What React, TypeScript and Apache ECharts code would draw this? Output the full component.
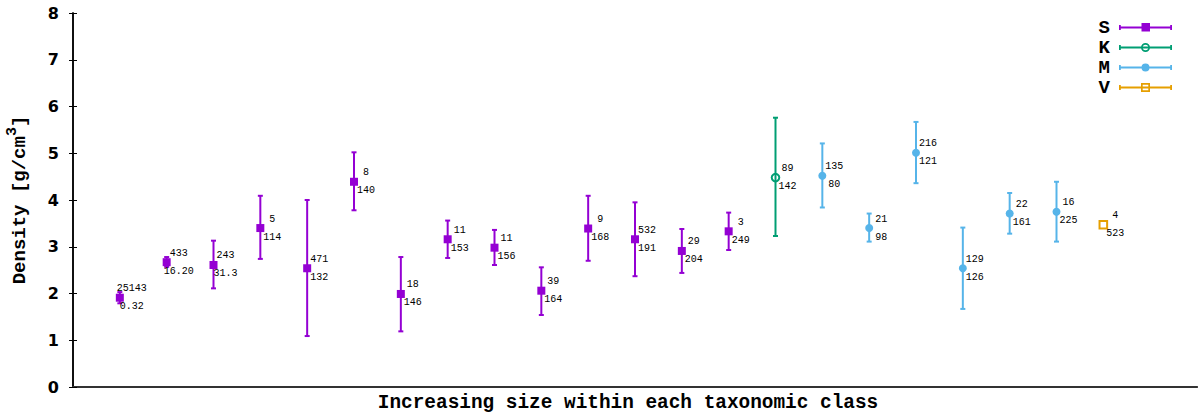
import React, { useEffect, useRef } from "react";
import * as echarts from "echarts";

// ---- data ----
const sX = [1, 2, 3, 4, 5, 6, 7, 8, 9, 10, 11, 12, 13, 14];
const sMean = [1.91, 2.67, 2.61, 3.4, 2.54, 4.39, 1.99, 3.16, 2.98, 2.06, 3.39, 3.16, 2.91, 3.33];
const sLow = [1.79, 2.57, 2.11, 2.74, 1.09, 3.78, 1.19, 2.76, 2.61, 1.54, 2.7, 2.37, 2.44, 2.93];
const sHigh = [2.03, 2.78, 3.13, 4.09, 4.0, 5.02, 2.78, 3.56, 3.36, 2.56, 4.09, 3.95, 3.38, 3.73];
const sTop = ["25143", "433", "243", "5", "471", "8", "18", "11", "11", "39", "9", "532", "29", "3"];
const sBottom = ["0.32", "16.20", "31.3", "114", "132", "140", "146", "153", "156", "164", "168", "191", "204", "249"];

const kX = [15];
const kMean = [4.48];
const kLow = [3.23];
const kHigh = [5.76];
const kTop = ["89"];
const kBottom = ["142"];

const mX = [16, 17, 18, 19, 20, 21];
const mMean = [4.52, 3.4, 5.01, 2.54, 3.71, 3.75];
const mLow = [3.84, 3.11, 4.36, 1.67, 3.28, 3.11];
const mHigh = [5.21, 3.71, 5.67, 3.41, 4.15, 4.39];
const mTop = ["135", "21", "216", "129", "22", "16"];
const mBottom = ["80", "98", "121", "126", "161", "225"];

const vX = [22];
const vMean = [3.47];
const vLow: (number | null)[] = [null];
const vHigh: (number | null)[] = [null];
const vTop = ["4"];
const vBottom = ["523"];

const yTicks = [0, 1, 2, 3, 4, 5, 6, 7, 8];

const COLORS = { S: "#9400D3", K: "#009E73", M: "#56B4E9", V: "#E69F00" };

const MONO = "'Liberation Mono', 'DejaVu Sans Mono', monospace";

// legend icons (53 x 9 box)
const LINE = "M0 3.5 H53 V5.5 H0 Z M0 2 H1.8 V7 H0 Z M51.2 2 H53 V7 H51.2 Z ";
const ICON_S = "path://" + LINE + "M22.5 0 H31 V8.5 H22.5 Z M0 0 H0.01 V9 H0 Z";
const ICON_K =
  "path://" + LINE +
  "M31 4.5 A4.5 4.5 0 1 1 22 4.5 A4.5 4.5 0 1 1 31 4.5 Z M29.3 4.5 A2.8 2.8 0 1 0 23.7 4.5 A2.8 2.8 0 1 0 29.3 4.5 Z";
const ICON_M =
  "path://" + LINE + "M30.5 4.5 A4 4 0 1 1 22.5 4.5 A4 4 0 1 1 30.5 4.5 Z M0 0 H0.01 V9 H0 Z";
const ICON_V =
  "path://" + LINE + "M22 0 H31 V9 H22 Z M23.7 1.7 V7.3 H29.3 V1.7 Z";

type Marker = "square" | "ocircle" | "circle" | "osquare";

function makeSeries(
  name: string,
  color: string,
  marker: Marker,
  xs: number[],
  mean: number[],
  low: (number | null)[],
  high: (number | null)[],
  top: string[],
  bottom: string[]
) {
  return {
    type: "custom",
    name,
    clip: false,
    itemStyle: { color },
    data: xs.map((x, i) => [x, mean[i]]),
    encode: { x: 0, y: 1 },
    renderItem: (params: any, api: any) => {
      const i = params.dataIndex;
      const p = api.coord([api.value(0), api.value(1)]);
      const children: any[] = [];
      const lo = low[i];
      const hi = high[i];
      if (lo != null && hi != null) {
        const pl = api.coord([api.value(0), lo]);
        const ph = api.coord([api.value(0), hi]);
        children.push({
          type: "line",
          shape: { x1: p[0], y1: pl[1], x2: p[0], y2: ph[1] },
          style: { stroke: color, lineWidth: 2 },
        });
        children.push({
          type: "line",
          shape: { x1: p[0] - 2.5, y1: pl[1], x2: p[0] + 2.5, y2: pl[1] },
          style: { stroke: color, lineWidth: 2 },
        });
        children.push({
          type: "line",
          shape: { x1: p[0] - 2.5, y1: ph[1], x2: p[0] + 2.5, y2: ph[1] },
          style: { stroke: color, lineWidth: 2 },
        });
      }
      if (marker === "square") {
        children.push({
          type: "rect",
          shape: { x: p[0] - 4, y: p[1] - 4, width: 8, height: 8 },
          style: { fill: color },
        });
      } else if (marker === "circle") {
        children.push({
          type: "circle",
          shape: { cx: p[0], cy: p[1], r: 4 },
          style: { fill: color },
        });
      } else if (marker === "ocircle") {
        children.push({
          type: "circle",
          shape: { cx: p[0], cy: p[1], r: 3.8 },
          style: { fill: "none", stroke: color, lineWidth: 2 },
        });
      } else {
        children.push({
          type: "rect",
          shape: { x: p[0] - 3.8, y: p[1] - 3.8, width: 7.6, height: 7.6 },
          style: { fill: "none", stroke: color, lineWidth: 2 },
        });
      }
      children.push({
        type: "text",
        style: {
          x: p[0] + 12,
          y: p[1] - 9,
          text: top[i],
          fill: "#000",
          font: "10px " + MONO,
          align: "center",
          verticalAlign: "middle",
        },
      });
      children.push({
        type: "text",
        style: {
          x: p[0] + 12,
          y: p[1] + 9,
          text: bottom[i],
          fill: "#000",
          font: "10px " + MONO,
          align: "center",
          verticalAlign: "middle",
        },
      });
      return { type: "group", children };
    },
  };
}

export default function App() {
  const ref = useRef<HTMLDivElement>(null);
  useEffect(() => {
    document.body.style.margin = "0";
    const chart = echarts.init(ref.current!, null, { renderer: "svg" });
    const tickLabel = {
      color: "#000",
      fontFamily: "'DejaVu Sans', sans-serif",
      fontWeight: "bold" as const,
      fontSize: 16,
      margin: 14,
    };
    chart.setOption({
      animation: false,
      backgroundColor: "#fff",
      grid: {
        left: 73,
        right: 3,
        top: 13,
        bottom: 30,
        containLabel: false,
        outerBoundsMode: "none",
      },
      xAxis: [
        {
          type: "value",
          min: 0,
          max: 24,
          position: "bottom",
          axisLine: { show: true, lineStyle: { color: "#000", width: 1.5 } },
          axisTick: { show: false },
          axisLabel: { show: false },
          splitLine: { show: false },
          name: "Increasing size within each taxonomic class",
          nameLocation: "middle",
          nameGap: 6,
          nameTextStyle: {
            color: "#000",
            fontFamily: MONO,
            fontWeight: "bold",
            fontSize: 19.4,
            padding: [0, 14, 0, 0],
          },
        },
        {
          type: "value",
          min: 0,
          max: 24,
          position: "top",
          axisLine: { show: true, lineStyle: { color: "#333", width: 2 } },
          axisTick: { show: false },
          axisLabel: { show: false },
          splitLine: { show: false },
        },
      ],
      yAxis: [
        {
          type: "value",
          min: yTicks[0],
          max: yTicks[yTicks.length - 1],
          interval: 1,
          position: "left",
          axisLine: { show: true, lineStyle: { color: "#000", width: 1.5 } },
          axisTick: { show: true, inside: true, length: 4, lineStyle: { color: "#000" } },
          axisLabel: tickLabel,
          splitLine: { show: false },
          name: "Density [g/cm{sup|3}]",
          nameLocation: "middle",
          nameGap: 39,
          nameRotate: 90,
          nameTextStyle: {
            color: "#000",
            fontFamily: MONO,
            fontWeight: "bold",
            fontSize: 19,
            rich: {
              sup: {
                color: "#000",
                fontFamily: MONO,
                fontWeight: "bold",
                fontSize: 15,
                verticalAlign: "top",
                padding: [0, 0, 14, 0],
              },
            },
          },
        },
        {
          type: "value",
          min: yTicks[0],
          max: yTicks[yTicks.length - 1],
          interval: 1,
          position: "right",
          axisLine: { show: true, lineStyle: { color: "#000", width: 1.5 } },
          axisTick: { show: true, inside: true, length: 4, lineStyle: { color: "#000" } },
          axisLabel: { show: false },
          splitLine: { show: false },
        },
      ],
      legend: {
        orient: "vertical",
        right: 23,
        top: 13,
        align: "right",
        itemWidth: 53,
        itemHeight: 9,
        itemGap: 1,
        selectedMode: false,
        textStyle: {
          color: "#000",
          fontFamily: MONO,
          fontWeight: "bold",
          fontSize: 19,
          lineHeight: 18,
          padding: [0, 4, 0, 0],
        },
        data: [
          { name: "S", icon: ICON_S },
          { name: "K", icon: ICON_K },
          { name: "M", icon: ICON_M },
          { name: "V", icon: ICON_V },
        ],
      },
      series: [
        makeSeries("S", COLORS.S, "square", sX, sMean, sLow, sHigh, sTop, sBottom),
        makeSeries("K", COLORS.K, "ocircle", kX, kMean, kLow, kHigh, kTop, kBottom),
        makeSeries("M", COLORS.M, "circle", mX, mMean, mLow, mHigh, mTop, mBottom),
        makeSeries("V", COLORS.V, "osquare", vX, vMean, vLow, vHigh, vTop, vBottom),
      ],
    });
    return () => chart.dispose();
  }, []);
  return <div ref={ref} style={{ width: 1200, height: 417 }} />;
}
